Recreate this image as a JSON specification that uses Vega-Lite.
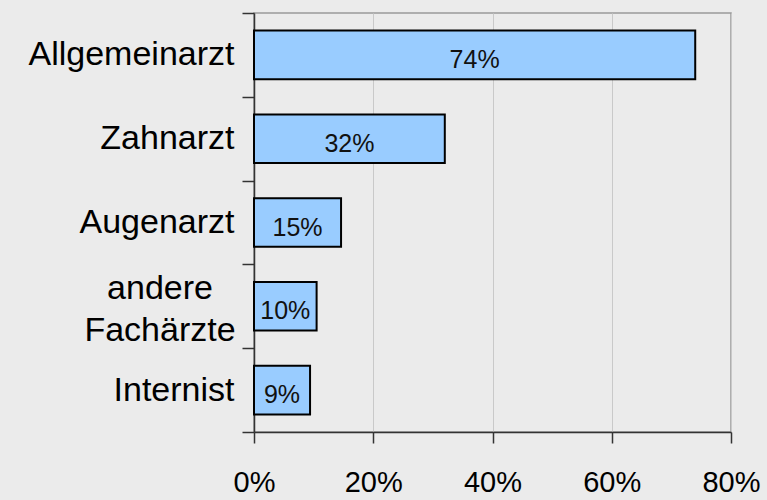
{
  "$schema": "https://vega.github.io/schema/vega-lite/v6.json",
  "width": 477,
  "height": 419,
  "autosize": {"type": "none"},
  "padding": {"left": 254, "top": 13, "right": 36, "bottom": 68},
  "background": "#ebebeb",
  "config": {
    "font": "Liberation Sans",
    "view": {"stroke": "#9a9a9a", "strokeWidth": 1.5, "fill": "#ebebeb"}
  },
  "data": {
    "values": [
      {"category": "Allgemeinarzt", "value": 74, "label": "74%"},
      {"category": "Zahnarzt", "value": 32, "label": "32%"},
      {"category": "Augenarzt", "value": 14.6, "label": "15%"},
      {"category": "andere Fachärzte", "value": 10.5, "label": "10%"},
      {"category": "Internist", "value": 9.4, "label": "9%"}
    ]
  },
  "encoding": {
    "y": {
      "field": "category",
      "type": "nominal",
      "sort": null,
      "scale": {"paddingInner": 0, "paddingOuter": 0},
      "axis": {
        "title": null,
        "labelExpr": "datum.label == 'andere Fachärzte' ? '' : datum.label",
        "labelFontSize": 34,
        "labelColor": "#000000",
        "labelPadding": 8,
        "labelLimit": 300,
        "tickBand": "extent",
        "tickSize": 12,
        "tickColor": "#333333",
        "tickWidth": 1.5,
        "domainColor": "#333333",
        "domainWidth": 1.5,
        "grid": false
      }
    }
  },
  "layer": [
    {
      "mark": {"type": "bar", "height": {"band": 0.58}, "fill": "#99ccff", "stroke": "#000000", "strokeWidth": 2},
      "encoding": {
        "x": {
          "field": "value",
          "type": "quantitative",
          "scale": {"domain": [0, 80]},
          "axis": {
            "title": null,
            "values": [0, 20, 40, 60, 80],
            "labelExpr": "datum.value + '%'",
            "labelFontSize": 29,
            "labelColor": "#000000",
            "labelPadding": 25,
            "labelAlign": "center",
            "tickSize": 11,
            "tickColor": "#333333",
            "tickWidth": 1.5,
            "domainColor": "#333333",
            "domainWidth": 1.5,
            "grid": true,
            "gridColor": "#c9c9c9",
            "gridWidth": 1
          }
        }
      }
    },
    {
      "transform": [{"calculate": "datum.value / 2", "as": "mid"}],
      "mark": {"type": "text", "fontSize": 25, "color": "#111111", "baseline": "middle", "dy": 5},
      "encoding": {
        "x": {"field": "mid", "type": "quantitative"},
        "text": {"field": "label"}
      }
    },
    {
      "transform": [{"filter": {"field": "category", "equal": "andere Fachärzte"}}],
      "mark": {"type": "text", "text": ["andere", "Fachärzte"], "fontSize": 34, "color": "#000000", "align": "center", "baseline": "bottom", "lineHeight": 42, "dx": -94},
      "encoding": {
        "x": {"datum": 0, "type": "quantitative"}
      }
    }
  ]
}
